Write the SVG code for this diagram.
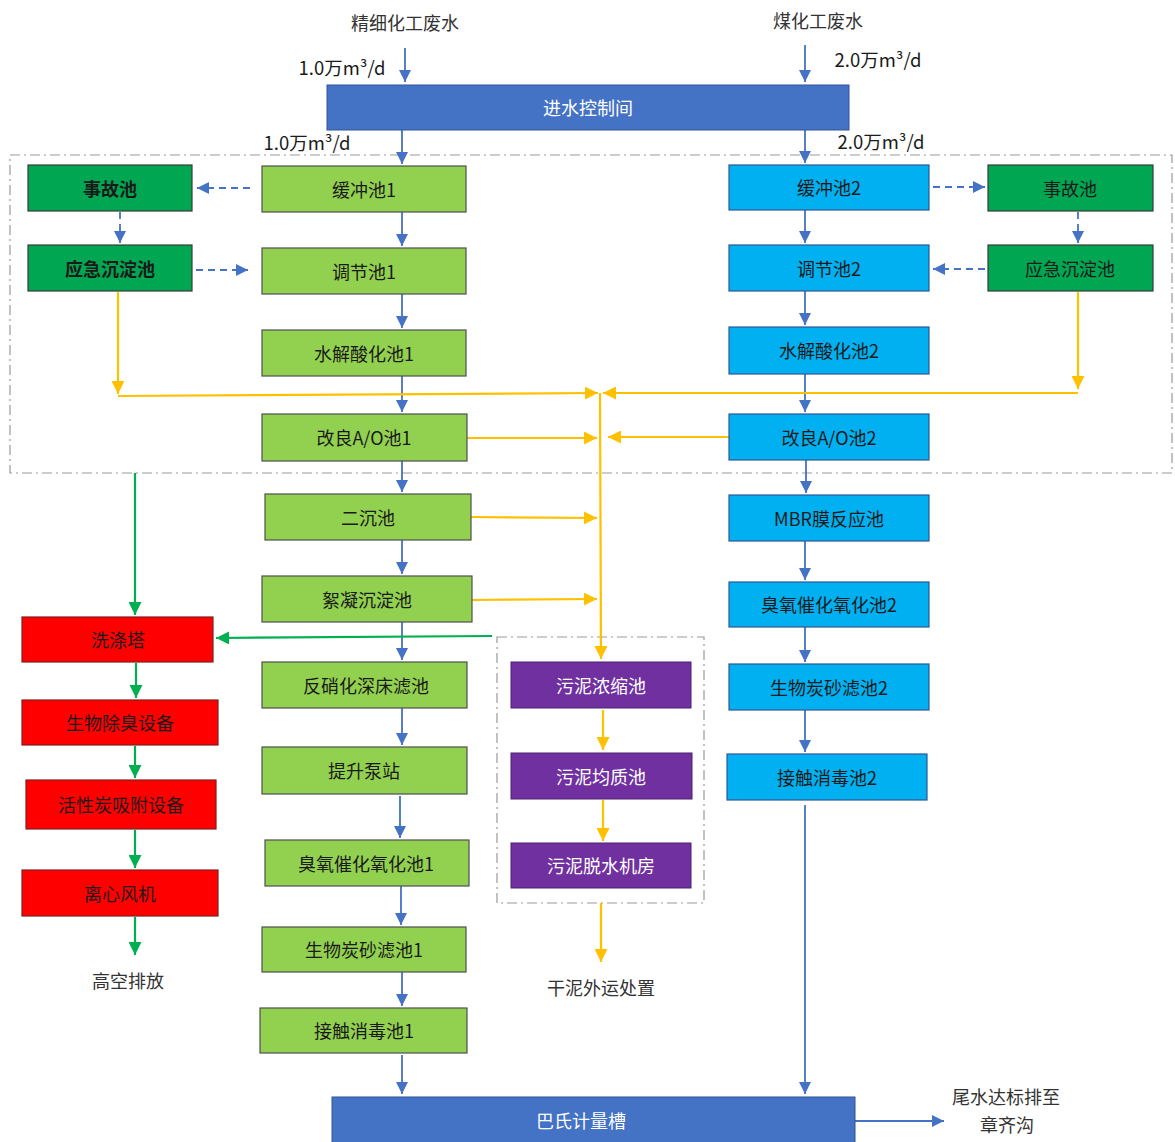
<svg xmlns="http://www.w3.org/2000/svg" width="1175" height="1142" viewBox="0 0 1175 1142">
<style>
text{font-family:"Noto Sans CJK SC","Liberation Sans",sans-serif;font-size:18px;text-anchor:middle;dominant-baseline:central}
.lbl{fill:#333}
.wt{fill:#fff}
.dk{fill:#1a1a1a}
.bd{font-weight:bold}
.fl{font-size:18.5px;fill:#1a1a1a}
.lg{fill:#92D050;stroke:#4f4f4f;stroke-width:1.2}
.dg{fill:#00A651;stroke:#3a3a3a;stroke-width:1.2}
.bl{fill:#00B0F0;stroke:#2F5597;stroke-width:1.2}
.db{fill:#4472C4;stroke:#2F5597;stroke-width:1}
.rd{fill:#FF0000;stroke:#7f1f1f;stroke-width:1.2}
.pp{fill:#7030A0;stroke:#4b2070;stroke-width:1}
.cb{fill:none;stroke:#4472C4;stroke-width:1.8}
.cbd{fill:none;stroke:#4472C4;stroke-width:1.8;stroke-dasharray:7 5}
.cy{fill:none;stroke:#FFC000;stroke-width:2.2}
.cg{fill:none;stroke:#00B050;stroke-width:2.2}
.frame{fill:none;stroke:#9a9a9a;stroke-width:1.2;stroke-dasharray:10 4 2 4}
</style>
<defs>
<marker id="ab" viewBox="0 0 10 10" refX="10" refY="5" markerWidth="12" markerHeight="12" markerUnits="userSpaceOnUse" orient="auto"><path d="M0,0 L10,5 L0,10 z" fill="#4472C4"/></marker>
<marker id="ay" viewBox="0 0 10 10" refX="10" refY="5" markerWidth="13" markerHeight="13" markerUnits="userSpaceOnUse" orient="auto"><path d="M0,0 L10,5 L0,10 z" fill="#FFC000"/></marker>
<marker id="ag" viewBox="0 0 10 10" refX="10" refY="5" markerWidth="13" markerHeight="13" markerUnits="userSpaceOnUse" orient="auto"><path d="M0,0 L10,5 L0,10 z" fill="#00B050"/></marker>
</defs>
<rect width="1175" height="1142" fill="#fff"/>

<g id="frames">
<rect class="frame" x="10" y="155" width="1162" height="318"/>
<rect class="frame" x="497" y="637" width="207" height="266"/>
</g>

<g id="labels">
<text class="lbl" x="405" y="22">精细化工废水</text>
<text class="lbl" x="818" y="20">煤化工废水</text>
<text class="fl" x="342" y="67">1.0万m³/d</text>
<text class="fl" x="878" y="59">2.0万m³/d</text>
<text class="fl" x="307" y="142">1.0万m³/d</text>
<text class="fl" x="881" y="141">2.0万m³/d</text>
<text class="lbl" x="128" y="980">高空排放</text>
<text class="lbl" x="601" y="987">干泥外运处置</text>
<text class="lbl" x="1006" y="1096">尾水达标排至</text>
<text class="lbl" x="1007" y="1124">章齐沟</text>
</g>

<g id="connectors">
<line class="cb" x1="405" y1="48" x2="405" y2="82" marker-end="url(#ab)"/>
<line class="cb" x1="805" y1="45" x2="805" y2="82" marker-end="url(#ab)"/>
<line class="cb" x1="402" y1="130" x2="402" y2="164" marker-end="url(#ab)"/>
<line class="cb" x1="805" y1="130" x2="805" y2="163" marker-end="url(#ab)"/>
<line class="cb" x1="402" y1="212" x2="402" y2="246" marker-end="url(#ab)"/>
<line class="cb" x1="402" y1="294" x2="402" y2="328" marker-end="url(#ab)"/>
<line class="cb" x1="402" y1="376" x2="402" y2="412" marker-end="url(#ab)"/>
<line class="cb" x1="402" y1="461" x2="402" y2="492" marker-end="url(#ab)"/>
<line class="cb" x1="402" y1="540" x2="402" y2="574" marker-end="url(#ab)"/>
<line class="cb" x1="402" y1="622" x2="402" y2="660" marker-end="url(#ab)"/>
<line class="cb" x1="402" y1="708" x2="402" y2="745" marker-end="url(#ab)"/>
<line class="cb" x1="400" y1="796" x2="400" y2="838" marker-end="url(#ab)"/>
<line class="cb" x1="401" y1="886" x2="401" y2="925" marker-end="url(#ab)"/>
<line class="cb" x1="402" y1="972" x2="402" y2="1006" marker-end="url(#ab)"/>
<line class="cb" x1="402" y1="1055" x2="402" y2="1094" marker-end="url(#ab)"/>
<line class="cb" x1="805" y1="210" x2="805" y2="243" marker-end="url(#ab)"/>
<line class="cb" x1="805" y1="291" x2="805" y2="325" marker-end="url(#ab)"/>
<line class="cb" x1="805" y1="374" x2="805" y2="412" marker-end="url(#ab)"/>
<line class="cb" x1="806" y1="460" x2="806" y2="493" marker-end="url(#ab)"/>
<line class="cb" x1="805" y1="541" x2="805" y2="580" marker-end="url(#ab)"/>
<line class="cb" x1="805" y1="627" x2="805" y2="662" marker-end="url(#ab)"/>
<line class="cb" x1="805" y1="710" x2="805" y2="752" marker-end="url(#ab)"/>
<line class="cb" x1="805" y1="805" x2="805" y2="1094" marker-end="url(#ab)"/>
<line class="cb" x1="855" y1="1121" x2="944" y2="1121" marker-end="url(#ab)"/>
<line class="cbd" x1="250" y1="188" x2="197" y2="188" marker-end="url(#ab)"/>
<line class="cbd" x1="120" y1="212" x2="120" y2="243" marker-end="url(#ab)"/>
<line class="cbd" x1="196" y1="270" x2="248" y2="270" marker-end="url(#ab)"/>
<line class="cbd" x1="933" y1="187" x2="985" y2="187" marker-end="url(#ab)"/>
<line class="cbd" x1="1078" y1="212" x2="1078" y2="243" marker-end="url(#ab)"/>
<line class="cbd" x1="985" y1="269" x2="933" y2="269" marker-end="url(#ab)"/>
<polyline class="cy" points="118,292 118,394" marker-end="url(#ay)"/>
<polyline class="cy" points="118,396 598,393" marker-end="url(#ay)"/>
<polyline class="cy" points="1078,292 1078,389" marker-end="url(#ay)"/>
<polyline class="cy" points="1078,393 603,393" marker-end="url(#ay)"/>
<line class="cy" x1="600" y1="393" x2="601" y2="659" marker-end="url(#ay)"/>
<line class="cy" x1="467" y1="438" x2="597" y2="438" marker-end="url(#ay)"/>
<line class="cy" x1="729" y1="437" x2="608" y2="437" marker-end="url(#ay)"/>
<line class="cy" x1="471" y1="517" x2="597" y2="518" marker-end="url(#ay)"/>
<line class="cy" x1="472" y1="600" x2="597" y2="599" marker-end="url(#ay)"/>
<line class="cy" x1="603" y1="710" x2="603" y2="750" marker-end="url(#ay)"/>
<line class="cy" x1="603" y1="800" x2="603" y2="841" marker-end="url(#ay)"/>
<line class="cy" x1="601" y1="903" x2="601" y2="962" marker-end="url(#ay)"/>
<line class="cg" x1="135" y1="473" x2="135" y2="615" marker-end="url(#ag)"/>
<line class="cg" x1="492" y1="636" x2="216" y2="638" marker-end="url(#ag)"/>
<line class="cg" x1="136" y1="663" x2="136" y2="698" marker-end="url(#ag)"/>
<line class="cg" x1="135" y1="746" x2="135" y2="778" marker-end="url(#ag)"/>
<line class="cg" x1="135" y1="830" x2="135" y2="868" marker-end="url(#ag)"/>
<line class="cg" x1="135" y1="917" x2="135" y2="955" marker-end="url(#ag)"/>
</g>

<g id="n-jinshui"><rect class="db" x="327" y="85" width="522" height="45"/><text class="wt" x="588" y="107">进水控制间</text></g>
<g id="n-bashi"><rect class="db" x="332" y="1097" width="523" height="50"/><text class="wt" x="581" y="1120">巴氏计量槽</text></g>

<g id="n-shigu1"><rect class="dg" x="28" y="165" width="164" height="46"/><text class="dk bd" x="110" y="188">事故池</text></g>
<g id="n-yingji1"><rect class="dg" x="28" y="245" width="164" height="46"/><text class="dk bd" x="110" y="268">应急沉淀池</text></g>
<g id="n-shigu2"><rect class="dg" x="988" y="165" width="165" height="46"/><text class="dk" x="1070" y="188">事故池</text></g>
<g id="n-yingji2"><rect class="dg" x="988" y="245" width="165" height="46"/><text class="dk" x="1070" y="268">应急沉淀池</text></g>

<g id="n-hc1"><rect class="lg" x="262" y="166" width="204" height="46"/><text class="dk" x="364" y="189">缓冲池1</text></g>
<g id="n-tj1"><rect class="lg" x="262" y="248" width="204" height="46"/><text class="dk" x="364" y="271">调节池1</text></g>
<g id="n-sj1"><rect class="lg" x="262" y="330" width="204" height="46"/><text class="dk" x="364" y="353">水解酸化池1</text></g>
<g id="n-ao1"><rect class="lg" x="262" y="414" width="205" height="47"/><text class="dk" x="364" y="437">改良A/O池1</text></g>
<g id="n-ec"><rect class="lg" x="265" y="494" width="206" height="46"/><text class="dk" x="368" y="517">二沉池</text></g>
<g id="n-xn"><rect class="lg" x="262" y="576" width="210" height="46"/><text class="dk" x="367" y="599">絮凝沉淀池</text></g>
<g id="n-fxh"><rect class="lg" x="262" y="662" width="205" height="46"/><text class="dk" x="366" y="685">反硝化深床滤池</text></g>
<g id="n-ts"><rect class="lg" x="262" y="747" width="205" height="47"/><text class="dk" x="364" y="770">提升泵站</text></g>
<g id="n-cy1"><rect class="lg" x="265" y="840" width="204" height="46"/><text class="dk" x="366" y="863">臭氧催化氧化池1</text></g>
<g id="n-sw1"><rect class="lg" x="262" y="927" width="204" height="45"/><text class="dk" x="364" y="949">生物炭砂滤池1</text></g>
<g id="n-jc1"><rect class="lg" x="260" y="1008" width="207" height="45"/><text class="dk" x="364" y="1030">接触消毒池1</text></g>

<g id="n-hc2"><rect class="bl" x="729" y="165" width="200" height="45"/><text class="dk" x="829" y="187">缓冲池2</text></g>
<g id="n-tj2"><rect class="bl" x="729" y="245" width="200" height="46"/><text class="dk" x="829" y="268">调节池2</text></g>
<g id="n-sj2"><rect class="bl" x="729" y="327" width="200" height="47"/><text class="dk" x="829" y="350">水解酸化池2</text></g>
<g id="n-ao2"><rect class="bl" x="729" y="414" width="200" height="46"/><text class="dk" x="829" y="437">改良A/O池2</text></g>
<g id="n-mbr"><rect class="bl" x="729" y="495" width="200" height="46"/><text class="dk" x="829" y="518">MBR膜反应池</text></g>
<g id="n-cy2"><rect class="bl" x="729" y="582" width="200" height="45"/><text class="dk" x="829" y="604">臭氧催化氧化池2</text></g>
<g id="n-sw2"><rect class="bl" x="729" y="664" width="200" height="46"/><text class="dk" x="829" y="687">生物炭砂滤池2</text></g>
<g id="n-jc2"><rect class="bl" x="727" y="754" width="200" height="46"/><text class="dk" x="827" y="777">接触消毒池2</text></g>

<g id="n-xd"><rect class="rd" x="22" y="617" width="191" height="45"/><text class="dk" x="118" y="639">洗涤塔</text></g>
<g id="n-cc"><rect class="rd" x="22" y="700" width="196" height="45"/><text class="dk" x="120" y="722">生物除臭设备</text></g>
<g id="n-hx"><rect class="rd" x="26" y="780" width="190" height="49"/><text class="dk" x="121" y="804">活性炭吸附设备</text></g>
<g id="n-lx"><rect class="rd" x="22" y="870" width="196" height="46"/><text class="dk" x="120" y="893">离心风机</text></g>

<g id="n-ns"><rect class="pp" x="511" y="662" width="180" height="46"/><text class="wt" x="601" y="685">污泥浓缩池</text></g>
<g id="n-jz"><rect class="pp" x="511" y="753" width="181" height="46"/><text class="wt" x="601" y="776">污泥均质池</text></g>
<g id="n-ts2"><rect class="pp" x="511" y="843" width="180" height="45"/><text class="wt" x="601" y="865">污泥脱水机房</text></g>
</svg>
